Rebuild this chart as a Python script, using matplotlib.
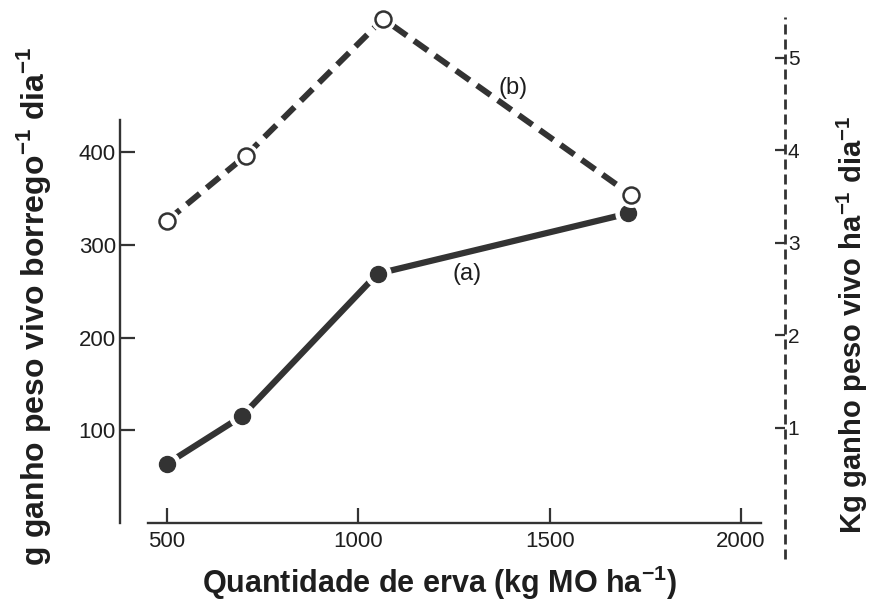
import matplotlib.pyplot as plt
import matplotlib.transforms as mtransforms

plt.rcParams['font.family'] = ['Liberation Sans', 'DejaVu Sans']
plt.rcParams['mathtext.fontset'] = 'custom'
plt.rcParams['mathtext.rm'] = 'Liberation Sans'
plt.rcParams['mathtext.bf'] = 'Liberation Sans:bold'

# (a) ganho por borrego (eixo esquerdo)
erva_a = [500, 695, 1050, 1705]
ganho_borrego = [64, 115, 269, 334]

# (b) ganho por hectare (eixo direito)
erva_b = [500, 705, 1065, 1712]
ganho_ha = [3.24, 3.94, 5.42, 3.52]

x_ticks = [500, 1000, 1500, 2000]
left_ticks = [100, 200, 300, 400]
right_ticks = [1, 2, 3, 4, 5]

ink = '#333333'
txt = '#1e1e1e'

fig = plt.figure(figsize=(8.71, 6.10), dpi=100)
ax = fig.add_axes([120 / 871, 87 / 610, 665 / 871, 506 / 610])
ax2 = ax.twinx()

ax.set_xlim(377, 2115)
ax.set_ylim(0, 546)
ax2.set_ylim(-0.027, 5.44)

for s in ['top', 'right']:
    ax.spines[s].set_visible(False)
for s in ['top', 'left', 'bottom', 'right']:
    ax2.spines[s].set_visible(False)

ax.spines['left'].set_bounds(0, 435)
ax.spines['bottom'].set_bounds(450, 2052)
for s in ['left', 'bottom']:
    ax.spines[s].set_linewidth(1.7)
    ax.spines[s].set_color(ink)

# dashed right axis running below the x axis
trans = mtransforms.blended_transform_factory(ax2.transAxes, ax2.transData)
ax2.plot([1, 1], [-0.42, 5.44], transform=trans, clip_on=False,
         color=ink, lw=2.0, linestyle=(0, (3.6, 1.8)))

ax.set_xticks(x_ticks)
ax.set_yticks(left_ticks)
ax2.set_yticks(right_ticks)
ax.tick_params(axis='both', direction='in', length=11, width=1.6, color=ink,
               labelsize=16, labelcolor=txt)
ax.tick_params(axis='x', pad=6)
ax.tick_params(axis='y', pad=3)
ax2.tick_params(axis='y', direction='in', length=7, width=1.6, color=ink,
                labelsize=15, pad=2, labelcolor=txt)

# lines
ax.plot(erva_a, ganho_borrego, color=ink, lw=4.5, solid_capstyle='round',
        zorder=2, clip_on=False)
ax2.plot(erva_b, ganho_ha, color=ink, lw=4.3, linestyle=(0, (2.8, 1.5)),
         zorder=2, clip_on=False)

# markers with a white halo to leave a gap around them
ax.plot(erva_a, ganho_borrego, 'o', ms=18, color='white', zorder=3, clip_on=False)
ax.plot(erva_a, ganho_borrego, 'o', ms=11.5, color=ink, zorder=4, clip_on=False)
ax2.plot(erva_b, ganho_ha, 'o', ms=17, color='white', zorder=3, clip_on=False)
ax2.plot(erva_b, ganho_ha, 'o', ms=11.5, mfc='white', mec=ink, mew=1.8,
         zorder=4, clip_on=False)

ax.text(1285, 269, '(a)', fontsize=17, color=txt, ha='center', va='center')
ax2.text(1405, 4.67, '(b)', fontsize=17, color=txt, ha='center', va='center')

fig.text(440 / 871, 1 - 583 / 610, r'Quantidade de erva (kg MO ha$^{\mathbf{-1}}$)',
         fontsize=22, fontweight='bold', color=txt, ha='center', va='center')
fig.text(34 / 871, 1 - 306 / 610, r'g ganho peso vivo borrego$^{\mathbf{-1}}$ dia$^{\mathbf{-1}}$',
         fontsize=23, fontweight='bold', color=txt, ha='center', va='center',
         rotation=90)
fig.text(852 / 871, 1 - 325 / 610, r'Kg ganho peso vivo ha$^{\mathbf{-1}}$ dia$^{\mathbf{-1}}$',
         fontsize=21, fontweight='bold', color=txt, ha='center', va='center',
         rotation=90)

fig.savefig('out.png', dpi=100)
